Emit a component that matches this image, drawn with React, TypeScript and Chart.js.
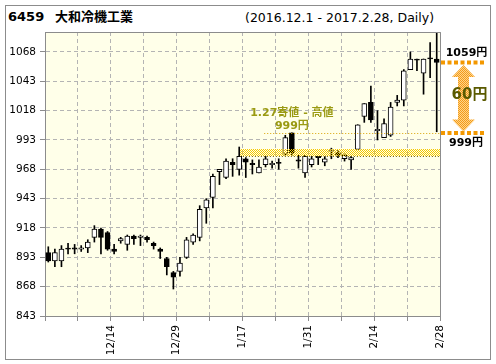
import React, { useEffect, useRef } from "react";
import { Chart, registerables } from "chart.js";

Chart.register(...registerables);

const stockCode = "6459";
const companyName = "大和冷機工業";
const periodLabel = "(2016.12.1 - 2017.2.28, Daily)";

const dates = [
  "12/1", "12/2", "12/5", "12/6", "12/7", "12/8", "12/9", "12/12", "12/13", "12/14",
  "12/15", "12/16", "12/19", "12/20", "12/21", "12/22", "12/26", "12/27", "12/28", "12/29",
  "12/30", "1/4", "1/5", "1/6", "1/10", "1/11", "1/12", "1/13", "1/16", "1/17",
  "1/18", "1/19", "1/20", "1/23", "1/24", "1/25", "1/26", "1/27", "1/30", "1/31",
  "2/1", "2/2", "2/3", "2/6", "2/7", "2/8", "2/9", "2/10", "2/13", "2/14",
  "2/15", "2/16", "2/17", "2/20", "2/21", "2/22", "2/23", "2/24", "2/27", "2/28",
];

const opens = [
  897, 890, 890, 900, 901, 900, 901, 910, 917, 914,
  900, 907, 904, 911, 910, 910, 905, 900, 892, 880,
  881, 893, 906, 910, 935, 944, 966, 961, 974, 968,
  977, 973, 965, 972, 972, 974, 981, 999, 976, 965,
  972, 979, 974, 983, 982, 977, 976, 985, 1013, 1025,
  1001, 995, 997, 1025, 1027, 1053, 1062, 1050, 1063, 1062,
];
const highs = [
  902, 900, 903, 905, 904, 903, 908, 920, 918, 915,
  904, 910, 912, 912, 912, 911, 906, 901, 893, 881,
  893, 910, 913, 937, 943, 964, 968, 977, 977, 987,
  978, 976, 976, 979, 975, 977, 997, 999, 980, 980,
  979, 979, 979, 986, 984, 981, 979, 1006, 1024, 1039,
  1018, 1011, 1025, 1031, 1053, 1068, 1062, 1062, 1076, 1085,
];
const lows = [
  889, 885, 885, 896, 896, 898, 897, 906, 896, 899,
  896, 905, 899, 904, 903, 906, 900, 892, 878, 866,
  877, 892, 904, 907, 922, 935, 955, 960, 962, 963,
  961, 964, 965, 970, 969, 968, 980, 980, 969, 961,
  970, 972, 971, 977, 978, 975, 968, 985, 1008, 1008,
  993, 995, 996, 1022, 1022, 1053, 1052, 1032, 1046, 1000,
];
const closes = [
  890, 897, 900, 900, 900, 901, 906, 917, 910, 900,
  898, 909, 911, 909, 911, 908, 903, 898, 885, 876,
  888, 908, 912, 934, 942, 962, 968, 975, 972, 979,
  974, 972, 970, 977, 973, 973, 995, 982, 975, 979,
  977, 978, 977, 984, 980, 980, 978, 1006, 1024, 1010,
  1002, 1007, 1021, 1027, 1052, 1062, 1061, 1062, 1062, 1059,
];

const yTickValues = [843, 868, 893, 918, 943, 968, 993, 1018, 1043, 1068];
const yMin = 843;
const yMax = 1085;

// Annotation values
const highDayIndex = 37; // 1/27
const highPrice = 999;
const highNote = "1.27寄値 - 高値";
const highNotePrice = "999円";
const highLineStartDay = 33.3;
const zoneLow = 979;
const zoneHigh = 985;
const zoneStartDay = 29.6;

const FONT = "'DejaVu Sans', 'Noto Sans CJK JP', sans-serif";

const mkPatternCanvas = (size: number, bg: string | null, fg: string, pts: number[][]) => {
  const c = document.createElement("canvas");
  c.width = size;
  c.height = size;
  const g = c.getContext("2d")!;
  if (bg) {
    g.fillStyle = bg;
    g.fillRect(0, 0, size, size);
  }
  g.fillStyle = fg;
  pts.forEach(([x, y]) => g.fillRect(x, y, 1, 1));
  return c;
};

const decoPlugin = {
  id: "deco",
  beforeDraw(chart: any) {
    const { ctx, chartArea: a } = chart;
    ctx.save();
    ctx.fillStyle = "#FFFFE9";
    ctx.fillRect(a.left, a.top, a.right - a.left, a.bottom - a.top);
    ctx.restore();
  },
  afterDatasetsDraw(chart: any) {
    const { ctx, chartArea: a, scales } = chart;
    const xs = scales.x;
    const ys = scales.y;
    ctx.save();
    // zone band
    const bx = xs.getPixelForValue(zoneStartDay);
    const byTop = Math.round(ys.getPixelForValue(zoneHigh));
    const byBot = Math.round(ys.getPixelForValue(zoneLow));
    const bandPat = ctx.createPattern(
      mkPatternCanvas(2, null, "#F5C800", [[0, 0], [1, 1]]),
      "repeat"
    );
    ctx.fillStyle = bandPat;
    ctx.fillRect(Math.round(bx), byTop, a.right - Math.round(bx), byBot - byTop);
    ctx.strokeStyle = "#6E5C00";
    ctx.lineWidth = 1;
    ctx.setLineDash([1, 2]);
    ctx.beginPath();
    ctx.moveTo(bx, byBot + 0.5);
    ctx.lineTo(a.right, byBot + 0.5);
    ctx.stroke();

    // high line 999
    const hy = Math.round(ys.getPixelForValue(highPrice)) + 0.5;
    const hx = xs.getPixelForValue(highLineStartDay);
    ctx.strokeStyle = "#D9A200";
    ctx.setLineDash([1, 2]);
    ctx.beginPath();
    ctx.moveTo(hx, hy);
    ctx.lineTo(a.right, hy);
    ctx.stroke();
    ctx.setLineDash([]);

    // note text
    const nx = xs.getPixelForValue(highDayIndex + 0.5);
    ctx.fillStyle = "#9A9A12";
    ctx.font = `bold 11px ${FONT}`;
    ctx.textAlign = "center";
    ctx.textBaseline = "middle";
    ctx.fillText(highNote, nx, hy - 20);
    ctx.fillText(highNotePrice, nx, hy - 7);
    ctx.restore();
  },
  afterDraw(chart: any) {
    const { ctx, chartArea: a, scales } = chart;
    const ys = scales.y;
    ctx.save();
    // plot frame (top, right)
    ctx.strokeStyle = "#8c8c8c";
    ctx.lineWidth = 1;
    ctx.beginPath();
    ctx.moveTo(a.left, a.top + 0.5);
    ctx.lineTo(a.right + 0.5, a.top + 0.5);
    ctx.lineTo(a.right + 0.5, a.bottom);
    ctx.stroke();

    // right-side range annotation
    const lastClose = closes[closes.length - 1];
    const y1 = ys.getPixelForValue(lastClose);
    const y2 = ys.getPixelForValue(highPrice);
    const x0 = a.right + 1;
    const x1 = a.right + 46;
    ctx.strokeStyle = "#F39800";
    ctx.lineWidth = 4;
    ctx.setLineDash([4, 2.5]);
    ctx.beginPath();
    ctx.moveTo(x0, y1);
    ctx.lineTo(x1, y1);
    ctx.moveTo(x0, y2);
    ctx.lineTo(x1, y2);
    ctx.stroke();
    ctx.setLineDash([]);

    // double arrow
    const ax = a.right + 23.5;
    const top = y1 + 2.5;
    const bot = y2 - 1.5;
    const hh = 12;
    const hw = 11.5;
    const sw = 5.5;
    const arrowPat = ctx.createPattern(
      mkPatternCanvas(2, "#FFD58A", "#F39A1A", [[0, 0], [1, 1]]),
      "repeat"
    );
    ctx.fillStyle = arrowPat;
    ctx.beginPath();
    ctx.moveTo(ax, top);
    ctx.lineTo(ax + hw, top + hh);
    ctx.lineTo(ax + sw, top + hh);
    ctx.lineTo(ax + sw, bot - hh);
    ctx.lineTo(ax + hw, bot - hh);
    ctx.lineTo(ax, bot);
    ctx.lineTo(ax - hw, bot - hh);
    ctx.lineTo(ax - sw, bot - hh);
    ctx.lineTo(ax - sw, top + hh);
    ctx.lineTo(ax - hw, top + hh);
    ctx.closePath();
    ctx.fill();

    ctx.textAlign = "center";
    ctx.textBaseline = "middle";
    ctx.fillStyle = "#000";
    ctx.font = `bold 11px ${FONT}`;
    ctx.fillText(`${lastClose}円`, a.right + 26.5, y1 - 9.5);
    ctx.fillText(`${highPrice}円`, a.right + 26, y2 + 10.5);

    ctx.font = `bold 15px ${FONT}`;
    ctx.fillStyle = "#5A5A00";
    ctx.fillText(`${lastClose - highPrice}円`, a.right + 29.5, (y1 + y2) / 2 - 2.5);
    ctx.restore();
  },
};

export default function App() {
  const canvasRef = useRef<HTMLCanvasElement | null>(null);

  useEffect(() => {
    const canvas = canvasRef.current;
    if (!canvas) return;

    const bodyData = dates.map((_, i) => ({ x: i + 0.5, y: [opens[i], closes[i]] }));
    const wickData = dates.map((_, i) => ({ x: i + 0.5, y: [lows[i], highs[i]] }));
    const gridDays: number[] = [];
    for (let d = 0; d <= dates.length; d += 5) gridDays.push(d);

    const chart = new Chart(canvas, {
      type: "bar",
      data: {
        datasets: [
          {
            label: "body",
            data: bodyData as any,
            order: 0,
            grouped: false,
            barThickness: 5,
            minBarLength: 1,
            borderWidth: 1,
            borderSkipped: false,
            borderColor: "#000",
            backgroundColor: (c: any) => (closes[c.dataIndex] > opens[c.dataIndex] ? "#fff" : "#000"),
          } as any,
          {
            label: "wick",
            data: wickData as any,
            order: 1,
            grouped: false,
            barThickness: 1,
            borderWidth: 0,
            backgroundColor: "#000",
          } as any,
        ],
      },
      options: {
        animation: false,
        responsive: false,
        maintainAspectRatio: false,
        layout: { padding: { top: 32, right: 56, left: 0, bottom: 0 } },
        plugins: {
          legend: { display: false },
          tooltip: { enabled: false },
          title: { display: false },
        },
        scales: {
          x: {
            type: "linear",
            min: 0,
            max: dates.length,
            offset: false,
            afterBuildTicks: (s: any) => {
              s.ticks = gridDays.map((v) => ({ value: v }));
            },
            afterFit: (s: any) => {
              s.height = 48;
            },
            grid: {
              offset: false,
              color: "#b4b4b4",
              tickColor: "#8c8c8c",
              tickLength: 5,
              tickBorderDash: [],
            } as any,
            border: { display: true, color: "#8c8c8c", width: 1, dash: [4, 3] } as any,
            ticks: {
              autoSkip: false,
              minRotation: 90,
              maxRotation: 90,
              padding: 4,
              color: "#000",
              font: { family: FONT, size: 10.5 },
              callback: (v: any) => {
                const n = Number(v);
                return n > 0 && n % 10 === 0 ? dates[n - 1] : "";
              },
            },
          },
          y: {
            type: "linear",
            min: yMin,
            max: yMax,
            afterBuildTicks: (s: any) => {
              s.ticks = yTickValues.map((v) => ({ value: v }));
            },
            afterFit: (s: any) => {
              s.width = 45;
            },
            grid: {
              color: "#b4b4b4",
              tickColor: "#8c8c8c",
              tickLength: 5,
              tickBorderDash: [],
            } as any,
            border: { display: true, color: "#8c8c8c", width: 1, dash: [4, 3] } as any,
            ticks: {
              padding: 4,
              color: "#000",
              font: { family: FONT, size: 10.5 },
              callback: (v: any) => String(v),
            },
          },
        },
      },
      plugins: [decoPlugin],
    });
    return () => chart.destroy();
  }, []);

  return (
    <div
      style={{
        position: "absolute",
        left: 0,
        top: 0,
        width: 496,
        height: 364,
        background: "#fff",
        overflow: "hidden",
      }}
    >
      <div
        style={{
          position: "absolute",
          left: 5,
          top: 5,
          width: 486,
          height: 355,
          boxSizing: "border-box",
          border: "1px solid #8c8c8c",
        }}
      />
      <span
        style={{
          position: "absolute",
          left: 8,
          top: 9,
          font: `bold 13px ${FONT}`,
          lineHeight: "16px",
          color: "#000",
          whiteSpace: "nowrap",
        }}
      >
        {stockCode}
      </span>
      <span
        style={{
          position: "absolute",
          left: 55,
          top: 9,
          font: `bold 13px ${FONT}`,
          lineHeight: "16px",
          color: "#000",
          whiteSpace: "nowrap",
        }}
      >
        {companyName}
      </span>
      <span
        style={{
          position: "absolute",
          left: 245,
          top: 10,
          font: `12.5px ${FONT}`,
          lineHeight: "16px",
          color: "#000",
          whiteSpace: "nowrap",
        }}
      >
        {periodLabel}
      </span>
      <canvas
        ref={canvasRef}
        width={496}
        height={364}
        style={{ position: "absolute", left: 0, top: 0, width: 496, height: 364 }}
      />
    </div>
  );
}
